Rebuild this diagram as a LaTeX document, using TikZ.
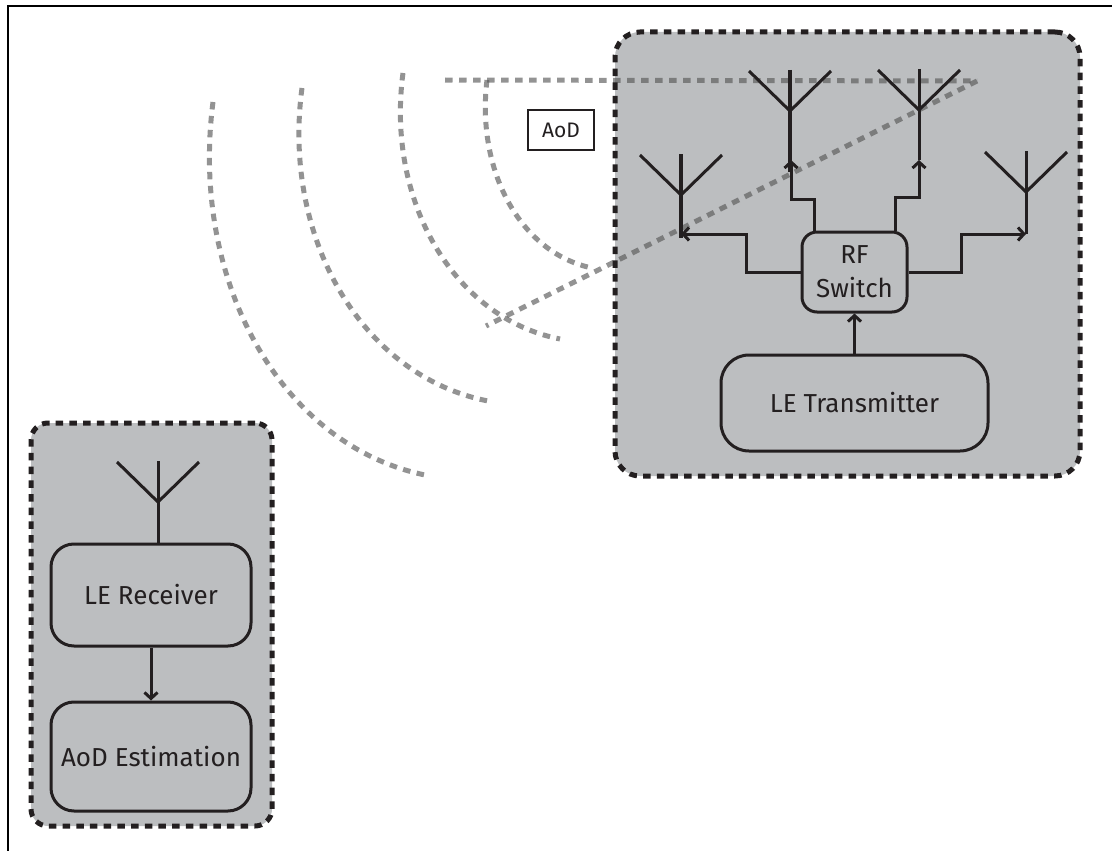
\documentclass[tikz,border=0pt]{standalone}
\usepackage{fontspec}
\setmainfont{Fira Sans}
\usetikzlibrary{arrows.meta}
\definecolor{inkdark}{HTML}{231F20}
\definecolor{areagrey}{HTML}{BCBEC0}
\tikzset{
  block/.style={draw=inkdark, line width=3pt, rounded corners=#1, inner sep=0pt, text=inkdark, align=center, font=\fontsize{26}{34}\selectfont},
  group/.style={draw=inkdark, line width=5pt, dash pattern=on 7.5pt off 6.2pt, rounded corners=#1, inner sep=0pt},
  wave/.style={draw=black!65, draw opacity=.65, line width=5pt, dash pattern=on 7.5pt off 6.5pt},
  link/.style={draw=inkdark, line width=3pt},
  >={Straight Barb[length=6pt,width=13pt]}
}
\begin{document}
\begin{tikzpicture}[x=1pt, y=-1pt]
    \useasboundingbox (0,0) rectangle (1112,851);

    % Frame
    \draw[black, line width=2pt] (8,851) -- (8,6) -- (1112,6);

    % Grey areas
    \fill[areagrey, rounded corners=25pt] (615,32) rectangle (1080,476);
    \fill[areagrey, rounded corners=17pt] (31,423) rectangle (272,826);

    % Wave fronts
    \draw[wave] (487,80) .. controls (476,170) and (520,253) .. (592,268);
    \draw[wave] (403,73) .. controls (386,200) and (453,318) .. (560,339);
    \draw[wave] (302,88) .. controls (282,237) and (361,376) .. (488,401);
    \draw[wave] (213,102) .. controls (190,280) and (280,445) .. (425,475);

    % Angle lines
    \coordinate (apex) at (977,81);
    \coordinate (hEnd) at (445,80);
    \coordinate (dEnd) at (486,326);
    \draw[wave] (hEnd) -- (apex);
    \draw[wave] (apex) -- (dEnd);

    % Group outlines
    \node[group=25pt, minimum width=465pt, minimum height=444pt] (txGroup) at (847.5,254) {};
    \node[group=17pt, minimum width=241pt, minimum height=403pt] (rxGroup) at (151.5,624.5) {};

    % Blocks
    \node[block=15pt, minimum width=105pt, minimum height=80pt] (rf) at (854.5,272) {RF\\Switch};
    \node[block=28pt, minimum width=267pt, minimum height=96pt] (tx) at (854.5,403) {LE Transmitter};
    \node[block=23pt, minimum width=200pt, minimum height=102pt] (rx) at (151,595) {LE Receiver};
    \node[block=23pt, minimum width=200pt, minimum height=109pt] (est) at (151,756.5) {AoD Estimation};
    \node[draw=inkdark, fill=white, line width=2.4pt, minimum width=66pt, minimum height=40pt, inner sep=0pt, text=inkdark, font=\fontsize{21}{24}\selectfont] (aod) at (561,130) {AoD};

    % Antennas
    \foreach \name/\x/\y/\feed/\stem in {antA/681/195/238/3.6, antB/790/111/172/4.2, antC/919/110/160/3, antD/1026/192/234/3, antR/158/502/502/3} {
        \coordinate (\name) at (\x,\y);
        \draw[link] (\name) -- ++(-41,-40);
        \draw[link] (\name) -- ++(41,-40);
        \draw[link, line width=\stem pt] (\x,\y-41) -- (\x,\feed);
    }

    % Feed points
    \coordinate (feedA) at (681,234);
    \coordinate (feedB) at (791,160);
    \coordinate (feedC) at (919,160);
    \coordinate (feedD) at (1026,234);

    % Connections
    \draw[link, ->] (rf.west) -- ++(-54,0) |- (feedA);
    \draw[link, ->] (rf.east) -- ++(53,0) |- (feedD);
    \draw[link, ->] ([xshift=-40pt]rf.north) -- ++(0,-31.5) -| (feedB);
    \draw[link, ->] ([xshift=41pt]rf.north) -- ++(0,-33) -| (feedC);
    \draw[link, ->] (tx) -- (rf);
    \draw[link] (antR) -- (antR |- rx.north);
    \draw[link, ->] (rx) -- (est);

\end{tikzpicture}
\end{document}
